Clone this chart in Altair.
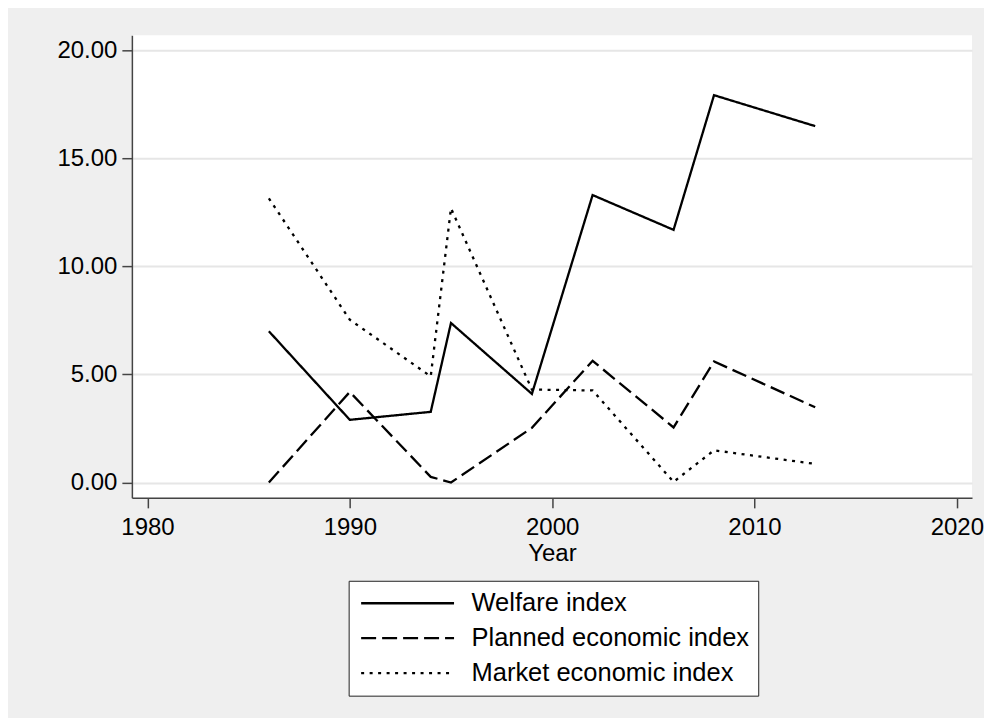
import altair as alt
import pandas as pd

years = [1986, 1990, 1994, 1995, 1999, 2002, 2006, 2008, 2013]
welfare = [7.0, 2.9, 3.27, 7.38, 4.1, 13.3, 11.69, 17.92, 16.49]
planned = [0.0, 4.19, 0.26, 0.0, 2.53, 5.63, 2.55, 5.6, 3.48]
market = [13.15, 7.53, 4.91, 12.69, 4.3, 4.26, 0.03, 1.49, 0.86]

series_names = ["Welfare index", "Planned economic index", "Market economic index"]
series_values = [welfare, planned, market]
dashes = [[1, 0], [15, 6], [3, 5.5]]

x_ticks = [1980, 1990, 2000, 2010, 2020]
y_ticks = [0, 5, 10, 15, 20]

rows = []
for name, vals in zip(series_names, series_values):
    for yr, v in zip(years, vals):
        rows.append({"Year": yr, "value": v, "series": name})
df = pd.DataFrame(rows)

FONT = "Liberation Sans"

chart = (
    alt.Chart(df)
    .mark_line(color="black", strokeWidth=2.3, strokeCap="butt")
    .encode(
        x=alt.X(
            "Year:Q",
            scale=alt.Scale(domain=[1979.23, 2020.75], nice=False, zero=False),
            axis=alt.Axis(
                values=x_ticks,
                format="d",
                grid=False,
                title="Year",
                labelPadding=8,
                titlePadding=2,
            ),
        ),
        y=alt.Y(
            "value:Q",
            scale=alt.Scale(domain=[-0.71, 20.69], nice=False, zero=False),
            axis=alt.Axis(
                values=y_ticks,
                format=".2f",
                grid=True,
                title=None,
                labelPadding=5,
            ),
        ),
        strokeDash=alt.StrokeDash(
            "series:N",
            scale=alt.Scale(domain=series_names, range=dashes),
            sort=series_names,
            legend=alt.Legend(
                title=None,
                orient="none",
                legendX=217,
                legendY=546,
                direction="vertical",
                symbolType="stroke",
                symbolSize=8649,
                symbolStrokeWidth=2.3,
                symbolStrokeColor="black",
                symbolOffset=2,
                labelFont=FONT,
                labelFontSize=25.5,
                labelColor="black",
                labelOffset=16,
                labelLimit=500,
                clipHeight=27,
                rowPadding=8,
                padding=9,
                strokeColor="#222222",
                fillColor="white",
            ),
        ),
        detail="series:N",
    )
    .properties(width=841, height=463, background="#efefef",
                padding={"left": 48, "top": 27, "right": 0, "bottom": 21})
    .configure_view(fill="white", strokeWidth=0)
    .configure_axis(
        domainColor="#444444",
        domainWidth=1.5,
        tickColor="#444444",
        tickWidth=1.5,
        tickSize=10,
        labelFont=FONT,
        labelFontSize=24,
        labelColor="black",
        titleFont=FONT,
        titleFontSize=24,
        titleFontWeight="normal",
        titleColor="black",
        gridColor="#e6e6e6",
        gridWidth=2,
    )
)

chart.save("out.html", embed_options={"renderer": "svg", "actions": False})
